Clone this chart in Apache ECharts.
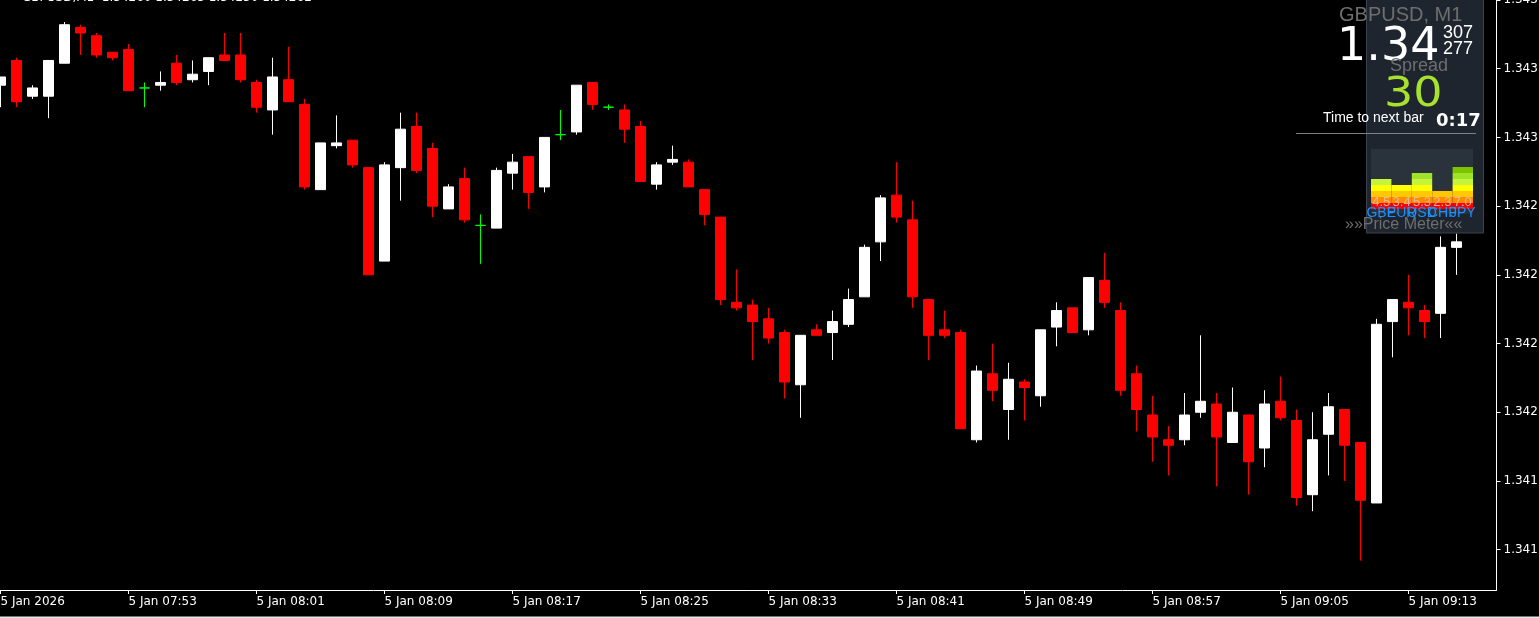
<!DOCTYPE html>
<html>
<head>
<meta charset="utf-8">
<script src="https://cdn.jsdelivr.net/npm/echarts@6.0.0/dist/echarts.min.js"></script>
<style>
html,body{margin:0;padding:0;background:#000;}
#c{width:1539px;height:618px;background:#000;}
</style>
</head>
<body>
<div id="c"></div>
<script>
// ---- data ----
const startMinute = 7 * 60 + 45; // 07:45
const candleCount = 92;
const futureSlots = 2;
const openP = [1.34319,1.34328,1.34315,1.34315,1.34327,1.34340,1.34337,1.34331,1.34332,1.34318,
1.34319,1.34327,1.34321,1.34324,1.34330,1.34330,1.34320,1.34310,1.34321,1.34312,
1.34281,1.34297,1.34299,1.34289,1.34255,1.34289,1.34304,1.34296,1.34274,1.34285,
1.34268,1.34267,1.34287,1.34293,1.34282,1.34301,1.34302,1.34320,1.34311,1.34310,
1.34304,1.34283,1.34291,1.34291,1.34281,1.34271,1.34240,1.34239,1.34234,1.34229,
1.34210,1.34230,1.34229,1.34232,1.34242,1.34262,1.34279,1.34270,1.34241,1.34230,
1.34229,1.34190,1.34214,1.34201,1.34211,1.34206,1.34231,1.34238,1.34230,1.34248,
1.34237,1.34214,1.34199,1.34190,1.34190,1.34200,1.34203,1.34189,1.34199,1.34187,
1.34204,1.34197,1.34170,1.34192,1.34201,1.34189,1.34167,1.34233,1.34240,1.34237,
1.34236,1.34260];
const closeP = [1.34322,1.34313,1.34318,1.34328,1.34341,1.34338,1.34330,1.34329,1.34317,1.34318,
1.34320,1.34320,1.34323,1.34329,1.34328,1.34321,1.34311,1.34322,1.34313,1.34282,
1.34298,1.34298,1.34290,1.34250,1.34290,1.34303,1.34288,1.34275,1.34282,1.34270,
1.34268,1.34288,1.34291,1.34280,1.34300,1.34301,1.34319,1.34312,1.34311,1.34303,
1.34284,1.34290,1.34292,1.34282,1.34272,1.34241,1.34238,1.34233,1.34227,1.34211,
1.34228,1.34228,1.34233,1.34241,1.34260,1.34278,1.34271,1.34242,1.34228,1.34228,
1.34194,1.34215,1.34208,1.34212,1.34209,1.34230,1.34237,1.34229,1.34249,1.34240,
1.34208,1.34201,1.34191,1.34188,1.34199,1.34204,1.34191,1.34200,1.34182,1.34203,
1.34198,1.34169,1.34190,1.34202,1.34188,1.34168,1.34232,1.34241,1.34238,1.34233,
1.34260,1.34262];
const lowP = [1.34311,1.34311,1.34314,1.34307,1.34327,1.34330,1.34329,1.34328,1.34317,1.34311,
1.34317,1.34319,1.34320,1.34319,1.34328,1.34320,1.34309,1.34301,1.34313,1.34281,
1.34281,1.34296,1.34289,1.34250,1.34255,1.34277,1.34287,1.34271,1.34274,1.34269,
1.34254,1.34267,1.34281,1.34274,1.34280,1.34299,1.34301,1.34310,1.34310,1.34298,
1.34284,1.34281,1.34290,1.34282,1.34268,1.34239,1.34237,1.34219,1.34225,1.34205,
1.34198,1.34228,1.34219,1.34231,1.34242,1.34255,1.34269,1.34238,1.34219,1.34227,
1.34194,1.34189,1.34204,1.34190,1.34197,1.34202,1.34224,1.34229,1.34228,1.34238,
1.34206,1.34193,1.34182,1.34177,1.34188,1.34198,1.34173,1.34189,1.34170,1.34180,
1.34197,1.34166,1.34164,1.34177,1.34175,1.34146,1.34167,1.34220,1.34228,1.34227,
1.34227,1.34250];
const highP = [1.34322,1.34329,1.34319,1.34328,1.34342,1.34341,1.34338,1.34331,1.34334,1.34320,
1.34324,1.34330,1.34328,1.34329,1.34338,1.34338,1.34321,1.34329,1.34333,1.34314,
1.34298,1.34308,1.34299,1.34289,1.34291,1.34309,1.34309,1.34298,1.34283,1.34289,
1.34272,1.34289,1.34294,1.34293,1.34300,1.34310,1.34319,1.34320,1.34312,1.34312,
1.34306,1.34291,1.34297,1.34292,1.34281,1.34271,1.34252,1.34241,1.34238,1.34230,
1.34228,1.34232,1.34237,1.34245,1.34261,1.34279,1.34291,1.34277,1.34241,1.34237,
1.34230,1.34217,1.34225,1.34218,1.34212,1.34230,1.34240,1.34238,1.34249,1.34258,
1.34240,1.34217,1.34206,1.34195,1.34207,1.34228,1.34207,1.34209,1.34199,1.34208,
1.34213,1.34201,1.34200,1.34207,1.34201,1.34189,1.34234,1.34241,1.34250,1.34239,
1.34264,1.34265];
const xTickLabels = ['5 Jan 2026','5 Jan 07:53','5 Jan 08:01','5 Jan 08:09','5 Jan 08:17','5 Jan 08:25',
  '5 Jan 08:33','5 Jan 08:41','5 Jan 08:49','5 Jan 08:57','5 Jan 09:05','5 Jan 09:13'];
const xTickEvery = 8;
const yTickValues = [1.34150,1.34175,1.34200,1.34225,1.34250,1.34275,1.34300,1.34325,1.34350];
const yMin = 1.3413533, yMax = 1.34350;
// price meter panel
const meterCurrencies = ['GBP','EUR','USD','CHF','JPY'];
const meterValues = ['4.5','3.4','5.3','2.3','7.0'];
const meterLevels = [5,4,6,3,7];
const meterBandColors = ['#ff0000','#ff8c00','#ffc800','#ffff00','#c4f53a','#9ee22a','#7cc400'];

// ---- build ----
const times = [];
for (let i = 0; i < candleCount + futureSlots; i++) {
  const m = startMinute + i;
  times.push(String(Math.floor(m / 60)).padStart(2, '0') + ':' + String(m % 60).padStart(2, '0'));
}
const GREEN = '#00ff00';
const candleData = openP.map((o, i) => {
  const item = { value: [o, closeP[i], lowP[i], highP[i]] };
  if (o === closeP[i]) item.itemStyle = { color: GREEN, color0: GREEN, borderColor: GREEN, borderColor0: GREEN };
  return item;
});
const trunc = v => v.toFixed(5).slice(0, 5);
const FONT = 'DejaVu Sans';
const ARIAL = 'Liberation Sans';

const meterSeries = meterBandColors.map((col, k) => ({
  type: 'bar', xAxisIndex: 1, yAxisIndex: 1, stack: 'meter', silent: true, z: 110,
  barWidth: '100%', barGap: '0%', animation: false,
  itemStyle: { color: col },
  data: meterLevels.map(l => (l > k ? 1 : 0)),
  label: k === 0 ? {
    show: true, position: 'insideBottom', distance: 0,
    formatter: p => meterValues[p.dataIndex],
    color: 'rgba(235,190,175,0.85)', fontSize: 13, fontFamily: ARIAL
  } : { show: false }
}));

const chart = echarts.init(document.getElementById('c'), null, { renderer: 'canvas' });
const txt = (text, x, y, font, fill, extra) => Object.assign({
  type: 'text', z: 120, silent: true,
  style: { text, x, y, font, fill, textAlign: 'left', textVerticalAlign: 'middle' }
}, extra || {});

chart.setOption({
  backgroundColor: '#000',
  animation: false,
  grid: [
    { left: -7.5, top: 0, width: 1504, height: 590, containLabel: false, outerBoundsMode: 'none' },
    { left: 1371, top: 149, width: 102, height: 60, containLabel: false, outerBoundsMode: 'none', z: 110 }
  ],
  xAxis: [
    {
      type: 'category', data: times, boundaryGap: true, gridIndex: 0,
      axisLine: { show: true, lineStyle: { color: '#ffffff', width: 1 } },
      axisTick: { show: true, length: 4, alignWithLabel: true, interval: i => i % xTickEvery === 0, lineStyle: { color: '#ffffff' } },
      axisLabel: {
        show: true, interval: i => i % xTickEvery === 0,
        formatter: (v, i) => xTickLabels[i / xTickEvery] || '',
        align: 'left', color: '#ffffff', fontFamily: FONT, fontSize: 12, margin: 6
      },
      splitLine: { show: false }
    },
    {
      type: 'category', data: meterCurrencies, gridIndex: 1, boundaryGap: true, z: 120,
      axisLine: { show: false }, axisTick: { show: false },
      axisLabel: { show: true, color: '#1e90ff', fontFamily: ARIAL, fontSize: 14, margin: -3, interval: 0 },
      splitLine: { show: false }
    }
  ],
  yAxis: [
    {
      type: 'value', position: 'right', gridIndex: 0, min: yMin, max: yMax, scale: true,
      axisLine: { show: true, lineStyle: { color: '#ffffff', width: 1 } },
      axisTick: { show: true, length: 4, customValues: yTickValues, lineStyle: { color: '#ffffff' } },
      axisLabel: { show: true, customValues: yTickValues, formatter: v => trunc(v), color: '#ffffff', fontFamily: FONT, fontSize: 12, margin: 7 },
      splitLine: { show: false }
    },
    { type: 'value', gridIndex: 1, min: 0, max: 10, show: false }
  ],
  series: [
    {
      type: 'candlestick', xAxisIndex: 0, yAxisIndex: 0, barWidth: 10, clip: true,
      itemStyle: { color: '#ffffff', color0: '#ff0000', borderColor: '#ffffff', borderColor0: '#ff0000', borderWidth: 1 },
      data: candleData,
      markLine: {
        silent: true, symbol: ['none', 'none'], animation: false,
        data: [{ yAxis: closeP[closeP.length - 1] }],
        lineStyle: { opacity: 0 },
        label: {
          show: true, position: 'end', distance: 1.5,
          formatter: p => trunc(p.value),
          backgroundColor: '#ffffff', color: '#000000', padding: [1, 3, 1, 3],
          fontFamily: FONT, fontSize: 12
        }
      }
    }
  ].concat(meterSeries),
  graphic: [
    { type: 'text', z: 120, silent: true, style: { text: 'GBPUSD,M1  1.34260 1.34265 1.34250 1.34262', x: 22, y: 4, font: '12px ' + FONT, fill: '#ffffff', textAlign: 'left', textVerticalAlign: 'bottom' } },
    { type: 'rect', z: 100, silent: true, shape: { x: 1366.5, y: -1, width: 117, height: 234 }, style: { fill: '#1e252e', stroke: '#3a424d', lineWidth: 1 } },
    { type: 'rect', z: 101, silent: true, shape: { x: 1371, y: 149, width: 102, height: 65 }, style: { fill: '#2a323c' } },
    txt('GBPUSD, M1', 1339, 15, '20px ' + ARIAL, '#6e6e6e'),
    txt('1.34', 1337, 48, '46px ' + FONT, '#ffffff'),
    txt('307', 1443, 33.5, '18px ' + ARIAL, '#ffffff'),
    txt('277', 1443, 49.5, '18px ' + ARIAL, '#ffffff'),
    txt('Spread', 1390, 66, '18px ' + ARIAL, '#6e6e6e'),
    txt('30', 1384, 96, '40px ' + FONT, '#a6e22e', { scaleX: 1.15, originX: 1384, originY: 96 }),
    { type: 'line', z: 120, silent: true, shape: { x1: 1296, y1: 133.5, x2: 1476, y2: 133.5 }, style: { stroke: '#808080', lineWidth: 1 } },
    txt('Time to next bar', 1323, 118, '14px ' + ARIAL, '#ffffff'),
    txt('0:17', 1436, 121, 'bold 18px ' + FONT, '#ffffff'),
    txt('»»Price Meter««', 1345, 225, '16px ' + ARIAL, '#6e6e6e'),
    { type: 'rect', z: 120, silent: true, shape: { x: 0, y: 616.5, width: 1539, height: 1.5 }, style: { fill: '#e8e8e8' } }
  ]
});
</script>
</body>
</html>
